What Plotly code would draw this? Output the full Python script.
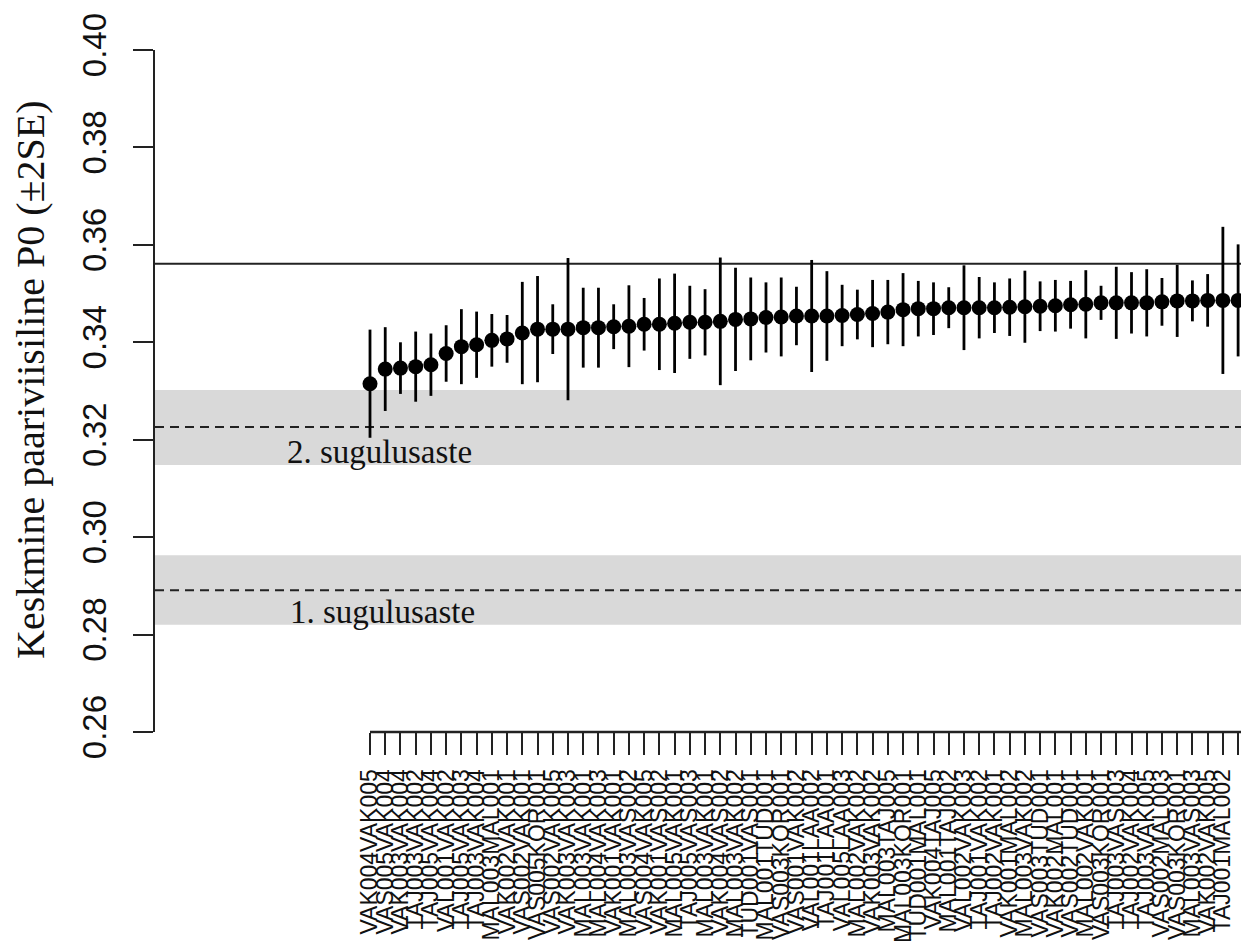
import plotly.graph_objects as go

# Pair labels (sorted by mean pairwise P0)
pair_labels = [
    "VAK004VAK005", "VAS005VAK004", "VAK003VAK004", "TAJ003VAK002", "TAJ005VAK004",
    "VAL001VAK002", "TAJ005VAK003", "TAJ003VAK004", "MAL003MAL001", "VAK002VAK001",
    "VAS002VAK001", "VAS005KOR001", "VAS002VAK005", "VAK003VAK003", "MAL003VAK001",
    "MAL004VAK003", "VAK001VAK001", "MAL003VAS002", "VAS004VAK005", "VAK001VAS002",
    "MAL005VAK001", "TAJ005VAS003", "MAL003VAK001", "VAK004VAS002", "MAL003VAK002",
    "TUD001VAS001", "MAL001TUD001", "VAS003KOR001", "VAS001VAK002", "VAL001LAA002",
    "TAJ001LAA001", "VAL005LAA003", "MAL002VAK002", "VAK003VAK002", "MAL003TAJ005",
    "MAL003KOR001", "TUD001MAL001", "VAK004TAJ005", "MAL001TAJ002", "VAL002VAK003",
    "TAJ001VAK002", "TAJ002VAK001", "VAK001MAL002", "MAL003VAK002", "VAS003TUD001",
    "VAK002MAL001", "VAS002TUD001", "MAL002VAK001", "VAS003KOR001", "TAJ003VAS003",
    "TAJ002VAK004", "TAJ003VAK005", "VAS002MAL003", "VAS003KOR001", "MAL003VAS003",
    "VAK002VAK005", "TAJ001MAL002", "VAL001MAL004",
]

# Mean pairwise P0 per pair
mean_p0 = [
    0.3315, 0.3345, 0.3347, 0.3350, 0.3354, 0.3377, 0.3391, 0.3395, 0.3404, 0.3407,
    0.3419, 0.3427, 0.3427, 0.3427, 0.3430, 0.3430, 0.3432, 0.3433, 0.3437, 0.3437,
    0.3439, 0.3441, 0.3441, 0.3443, 0.3447, 0.3448, 0.3451, 0.3452, 0.3454, 0.3454,
    0.3454, 0.3455, 0.3457, 0.3459, 0.3462, 0.3467, 0.3469, 0.3469, 0.3471, 0.3471,
    0.3471, 0.3471, 0.3472, 0.3473, 0.3474, 0.3475, 0.3477, 0.3478, 0.3481, 0.3481,
    0.3481, 0.3481, 0.3483, 0.3485, 0.3485, 0.3486, 0.3486, 0.3486,
]

# Two standard errors
two_se = [
    0.0111, 0.0086, 0.0053, 0.0072, 0.0064, 0.0058, 0.0077, 0.0068, 0.0054, 0.0049,
    0.0105, 0.0109, 0.0051, 0.0146, 0.0082, 0.0082, 0.0046, 0.0084, 0.0054, 0.0094,
    0.0102, 0.0075, 0.0068, 0.0131, 0.0106, 0.0085, 0.0072, 0.0081, 0.0060, 0.0115,
    0.0092, 0.0063, 0.0051, 0.0069, 0.0066, 0.0075, 0.0057, 0.0054, 0.0042, 0.0087,
    0.0063, 0.0052, 0.0059, 0.0074, 0.0051, 0.0053, 0.0049, 0.0070, 0.0035, 0.0074,
    0.0063, 0.0069, 0.0049, 0.0074, 0.0042, 0.0054, 0.0151, 0.0115,
]

# Reference levels
overall_level = 0.3561
degree2_mean, degree2_lo, degree2_hi = 0.3226, 0.3148, 0.3302
degree1_mean, degree1_lo, degree1_hi = 0.2891, 0.2820, 0.2963

y_ticks = [0.26, 0.28, 0.30, 0.32, 0.34, 0.36, 0.38, 0.40]
y_tick_text = ["0.26", "0.28", "0.30", "0.32", "0.34", "0.36", "0.38", "0.40"]

positions = list(range(1, len(mean_p0) + 1))

SANS = "Liberation Sans, Arial, sans-serif"
SERIF = "Liberation Serif, Times New Roman, serif"

fig = go.Figure()
fig.add_trace(go.Scatter(
    x=positions, y=mean_p0, mode="markers",
    marker=dict(color="black", size=15),
    error_y=dict(type="data", array=two_se, symmetric=True,
                 color="black", thickness=2.8, width=0),
    showlegend=False, hoverinfo="skip",
))

x_lo, x_hi = -13.117, 58.19

shapes = [
    # relatedness bands
    dict(type="rect", xref="paper", yref="y", x0=0, x1=1, y0=degree2_lo, y1=degree2_hi,
         fillcolor="#d9d9d9", line=dict(width=0), layer="below"),
    dict(type="rect", xref="paper", yref="y", x0=0, x1=1, y0=degree1_lo, y1=degree1_hi,
         fillcolor="#d9d9d9", line=dict(width=0), layer="below"),
    dict(type="line", xref="paper", yref="y", x0=0, x1=1, y0=degree2_mean, y1=degree2_mean,
         line=dict(color="#222", width=2, dash="9px,6px"), layer="below"),
    dict(type="line", xref="paper", yref="y", x0=0, x1=1, y0=degree1_mean, y1=degree1_mean,
         line=dict(color="#222", width=2, dash="9px,6px"), layer="below"),
    dict(type="line", xref="paper", yref="y", x0=0, x1=1, y0=overall_level, y1=overall_level,
         line=dict(color="#222", width=2), layer="below"),
    # x axis line from first tick onwards
    dict(type="line", xref="x", yref="paper", x0=positions[0], x1=x_hi, y0=0, y1=0,
         line=dict(color="#222", width=2.5)),
]

annotations = [
    dict(text="2. sugulusaste", x=1.6, y=0.3175, xref="x", yref="y",
         showarrow=False, font=dict(family=SERIF, size=33, color="#111")),
    dict(text="1. sugulusaste", x=1.85, y=0.2846, xref="x", yref="y",
         showarrow=False, font=dict(family=SERIF, size=33, color="#111")),
    dict(text="Keskmine paariviisiline P0 (±2SE)", textangle=-90,
         x=(30 - 155) / 1086, y=(732 - 380) / 682, xref="paper", yref="paper",
         xanchor="center", yanchor="middle", showarrow=False,
         font=dict(family=SERIF, size=40, color="#111")),
]

fig.update_layout(
    width=1241, height=946,
    margin=dict(l=155, r=0, t=50, b=214),
    paper_bgcolor="white", plot_bgcolor="white",
    shapes=shapes, annotations=annotations,
    xaxis=dict(
        range=[x_lo, x_hi], tickmode="array", tickvals=positions, ticktext=pair_labels,
        tickangle=-90, ticks="outside", ticklen=22, tickwidth=2, tickcolor="#222",
        showline=False, showgrid=False, zeroline=False, automargin=False,
        tickfont=dict(family=SANS, size=23, color="#111"),
        ticklabelstandoff=5,
    ),
    yaxis=dict(
        range=[0.26, 0.40], tickmode="array", tickvals=y_ticks, ticktext=y_tick_text,
        tickangle=-90, ticks="outside", ticklen=20, tickwidth=2, tickcolor="#222",
        showline=True, linewidth=2, linecolor="#222",
        showgrid=False, zeroline=False, automargin=False,
        tickfont=dict(family=SANS, size=33, color="#111"),
        ticklabelstandoff=14,
    ),
)

fig.write_html("out.html")
